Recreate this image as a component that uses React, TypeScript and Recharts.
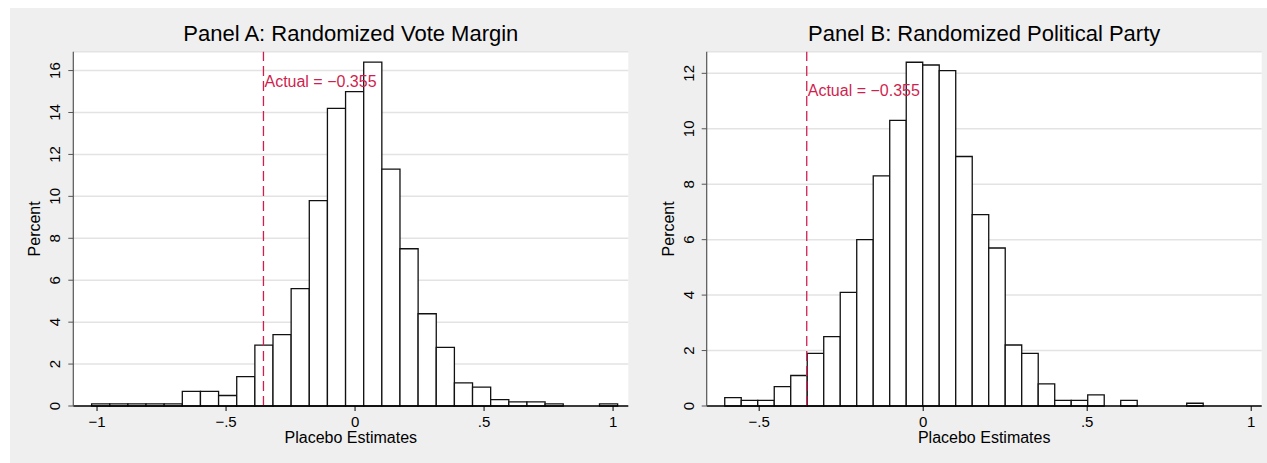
import {
  ComposedChart,
  Line,
  XAxis,
  YAxis,
  CartesianGrid,
  ReferenceArea,
  ReferenceLine,
  ReferenceDot,
  Label,
} from 'recharts'

const FONT = '"Liberation Sans", Arial, Helvetica, sans-serif'
const ACCENT = '#cf1f4f'
const PANEL_BG = '#efefef'

// Panel A: randomized vote margin (percent per bin)
const pctA = [
  0.1, 0.1, 0.1, 0.1, 0.1, 0.7, 0.7, 0.5, 1.4, 2.9, 3.4, 5.6, 9.8, 14.2, 15.0,
  16.4, 11.3, 7.5, 4.4, 2.8, 1.1, 0.9, 0.3, 0.2, 0.2, 0.1, 0, 0, 0.1,
]
const binStartA = -1.021
const binWidthA = 0.0703
const xTicksA = [-1, -0.5, 0, 0.5, 1]
const yTicksA = [0, 2, 4, 6, 8, 10, 12, 14, 16]
const xDomainA: [number, number] = [-1.092, 1.059]
const yDomainA: [number, number] = [0, 16.9]
const labelYA = 15.47

// Panel B: randomized political party (percent per bin)
const pctB = [
  0.3, 0.2, 0.2, 0.7, 1.1, 1.9, 2.5, 4.1, 6.0, 8.3, 10.3, 12.4, 12.3, 12.1, 9.0,
  6.9, 5.7, 2.2, 1.9, 0.8, 0.2, 0.2, 0.4, 0, 0.2, 0, 0, 0, 0.1,
]
const binStartB = -0.605
const binWidthB = 0.0503
const xTicksB = [-0.5, 0, 0.5, 1]
const yTicksB = [0, 2, 4, 6, 8, 10, 12]
const xDomainB: [number, number] = [-0.66, 1.032]
const yDomainB: [number, number] = [0, 12.78]
const labelYB = 11.37

const actualEstimate = -0.355

// stata-ish tick labels: −.5, .5, −1
function fmt(v: number) {
  const s = String(Math.abs(v)).replace(/^0\./, '.')
  return (v < 0 ? '\u2212' : '') + s
}

function XTick({ x, y, payload }: any) {
  return (
    <text x={x} y={y} textAnchor="middle" fontSize={15} fill="#000" fontFamily={FONT}>
      {fmt(payload.value)}
    </text>
  )
}

function YTick({ x, y, payload }: any) {
  return (
    <text
      x={x}
      y={y}
      transform={`rotate(-90, ${x}, ${y})`}
      textAnchor="middle"
      fontSize={15}
      fill="#000"
      fontFamily={FONT}
    >
      {fmt(payload.value)}
    </text>
  )
}

interface HistProps {
  title: string
  pct: number[]
  binStart: number
  binWidth: number
  xTicks: number[]
  yTicks: number[]
  xDomain: [number, number]
  yDomain: [number, number]
  labelY: number
  width: number
  margin: { top: number; right: number; bottom: number; left: number }
}

function Histogram({
  title,
  pct,
  binStart,
  binWidth,
  xTicks,
  yTicks,
  xDomain,
  yDomain,
  labelY,
  width,
  margin,
}: HistProps) {
  const bins = pct.map((p, i) => ({
    lo: binStart + i * binWidth,
    hi: binStart + (i + 1) * binWidth,
    mid: binStart + (i + 0.5) * binWidth,
    pct: p,
  }))
  const plotLeft = margin.left + 60
  const plotWidth = width - plotLeft - margin.right

  return (
    <div style={{ position: 'relative', width, height: 463 }}>
      <div
        style={{
          position: 'absolute',
          left: plotLeft,
          width: plotWidth,
          top: 23,
          textAlign: 'center',
          fontSize: 22,
          lineHeight: '22px',
          fontFamily: FONT,
          color: '#000',
          whiteSpace: 'nowrap',
        }}
      >
        {title}
      </div>
      <ComposedChart width={width} height={463} data={bins} margin={margin}>
        <CartesianGrid vertical={false} stroke="#e3e3e3" strokeWidth={1.5} fill="#fff" />
        <XAxis
          dataKey="mid"
          type="number"
          domain={xDomain}
          ticks={xTicks}
          allowDataOverflow
          height={30}
          tickSize={5}
          tickMargin={16}
          tick={<XTick />}
          axisLine={{ stroke: '#000', strokeWidth: 1.5 }}
          tickLine={{ stroke: '#000', strokeWidth: 1 }}
        >
          <Label
            content={({ viewBox }: any) => (
              <text
                x={viewBox.x + viewBox.width / 2}
                y={viewBox.y + 37}
                textAnchor="middle"
                fontSize={16}
                fill="#000"
                fontFamily={FONT}
              >
                Placebo Estimates
              </text>
            )}
          />
        </XAxis>
        <YAxis
          type="number"
          domain={yDomain}
          ticks={yTicks}
          allowDataOverflow
          width={60}
          tickSize={5}
          tickMargin={8}
          tick={<YTick />}
          axisLine={{ stroke: '#555', strokeWidth: 1.2 }}
          tickLine={{ stroke: '#555', strokeWidth: 1 }}
        >
          <Label
            content={({ viewBox }: any) => {
              const lx = viewBox.x + viewBox.width - 32.8
              const ly = viewBox.y + viewBox.height / 2
              return (
                <text
                  x={lx}
                  y={ly}
                  transform={`rotate(-90, ${lx}, ${ly})`}
                  textAnchor="middle"
                  fontSize={16}
                  fill="#000"
                  fontFamily={FONT}
                >
                  Percent
                </text>
              )
            }}
          />
        </YAxis>
        {bins
          .filter((b) => b.pct > 0)
          .map((b, i) => (
            <ReferenceArea
              key={`bin-${i}`}
              x1={b.lo}
              x2={b.hi}
              y1={0}
              y2={b.pct}
              fill="#fff"
              fillOpacity={1}
              stroke="#111"
              strokeWidth={1.3}
            />
          ))}
        <Line
          dataKey="pct"
          stroke="none"
          dot={false}
          activeDot={false}
          isAnimationActive={false}
        />
        <ReferenceLine
          x={actualEstimate}
          stroke={ACCENT}
          strokeWidth={1.3}
          strokeDasharray="10 5"
        />
        <ReferenceDot
          x={actualEstimate}
          y={labelY}
          r={0}
          fill="none"
          stroke="none"
          label={{
            value: 'Actual = \u22120.355',
            position: 'right',
            offset: 1,
            fill: ACCENT,
            fontSize: 16,
            fontFamily: FONT,
          }}
        />
      </ComposedChart>
    </div>
  )
}

export default function App() {
  return (
    <div
      style={{
        position: 'absolute',
        left: 0,
        top: 0,
        width: 1267,
        height: 463,
        background: '#fff',
        overflow: 'hidden',
      }}
    >
      <div
        style={{
          position: 'absolute',
          left: 10,
          top: 8,
          width: 1257,
          height: 455,
          background: PANEL_BG,
        }}
      />
      <div style={{ position: 'absolute', left: 0, top: 0 }}>
        <Histogram
          title="Panel A: Randomized Vote Margin"
          pct={pctA}
          binStart={binStartA}
          binWidth={binWidthA}
          xTicks={xTicksA}
          yTicks={yTicksA}
          xDomain={xDomainA}
          yDomain={yDomainA}
          labelY={labelYA}
          width={640}
          margin={{ top: 51.7, right: 11.7, bottom: 27, left: 13.3 }}
        />
      </div>
      <div style={{ position: 'absolute', left: 640, top: 0 }}>
        <Histogram
          title="Panel B: Randomized Political Party"
          pct={pctB}
          binStart={binStartB}
          binWidth={binWidthB}
          xTicks={xTicksB}
          yTicks={yTicksB}
          xDomain={xDomainB}
          yDomain={yDomainB}
          labelY={labelYB}
          width={627}
          margin={{ top: 51.7, right: 5.3, bottom: 27, left: 6.7 }}
        />
      </div>
    </div>
  )
}
